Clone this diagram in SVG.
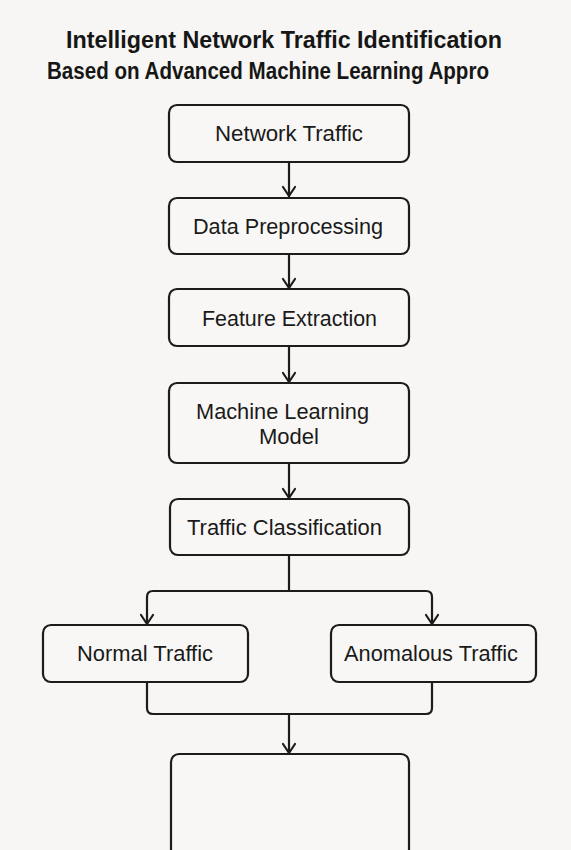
<svg xmlns="http://www.w3.org/2000/svg" width="571" height="850" viewBox="0 0 571 850">
  <style>
    .box { fill: #f8f7f5; stroke: #1c1c1c; stroke-width: 2.2; }
    .lbl { font-family: "Liberation Sans", Arial, sans-serif; font-size: 22px; fill: #1a1a1a; text-anchor: middle; }
    .title { font-family: "Liberation Sans", Arial, sans-serif; font-size: 23px; font-weight: bold; fill: #161616; text-anchor: middle; }
    .wire { fill: none; stroke: #1c1c1c; stroke-width: 2.2; stroke-linejoin: round; stroke-linecap: round; }
  </style>
  <rect width="571" height="850" fill="#f7f6f4"/>

  <g id="title">
    <text class="title" x="284" y="48" textLength="436" lengthAdjust="spacingAndGlyphs">Intelligent Network Traffic Identification</text>
    <text class="title" x="268" y="79" textLength="442" lengthAdjust="spacingAndGlyphs">Based on Advanced Machine Learning Appro</text>
  </g>

  <g id="connectors">
    <line class="wire" x1="289" y1="162" x2="289" y2="196"/>
    <line class="wire" x1="289" y1="254" x2="289" y2="288"/>
    <line class="wire" x1="289" y1="346" x2="289" y2="382"/>
    <line class="wire" x1="289" y1="463" x2="289" y2="498"/>
    <path class="wire" d="M289,555 V591"/>
    <path class="wire" d="M147,624 V597 Q147,591 153,591 H426 Q432,591 432,597 V624"/>
    <path class="wire" d="M147,682 V708 Q147,714 153,714 H426 Q432,714 432,708 V682"/>
    <line class="wire" x1="289" y1="714" x2="289" y2="753"/>
    <!-- open arrowheads -->
    <g class="wire">
      <path d="M283,187 L289,196 L295,187"/>
      <path d="M283,279 L289,288 L295,279"/>
      <path d="M283,373 L289,382 L295,373"/>
      <path d="M283,489 L289,498 L295,489"/>
      <path d="M141,615 L147,624 L153,615"/>
      <path d="M426,615 L432,624 L438,615"/>
      <path d="M283,744 L289,753 L295,744"/>
    </g>
  </g>

  <g id="network-traffic">
    <rect class="box" x="169" y="105" width="240" height="57" rx="8"/>
    <text class="lbl" x="289" y="141" textLength="148" lengthAdjust="spacingAndGlyphs">Network Traffic</text>
  </g>
  <g id="data-preprocessing">
    <rect class="box" x="169" y="198" width="240" height="56" rx="8"/>
    <text class="lbl" x="288" y="234" textLength="190" lengthAdjust="spacingAndGlyphs">Data Preprocessing</text>
  </g>
  <g id="feature-extraction">
    <rect class="box" x="169" y="289" width="240" height="57" rx="8"/>
    <text class="lbl" x="289.5" y="326" textLength="175" lengthAdjust="spacingAndGlyphs">Feature Extraction</text>
  </g>
  <g id="ml-model">
    <rect class="box" x="169" y="383" width="240" height="80" rx="8"/>
    <text class="lbl" x="282.5" y="419" textLength="173" lengthAdjust="spacingAndGlyphs">Machine Learning</text>
    <text class="lbl" x="289" y="444" textLength="60" lengthAdjust="spacingAndGlyphs">Model</text>
  </g>
  <g id="traffic-classification">
    <rect class="box" x="170" y="499" width="239" height="56" rx="8"/>
    <text class="lbl" x="284.5" y="535" textLength="195" lengthAdjust="spacingAndGlyphs">Traffic Classification</text>
  </g>
  <g id="normal-traffic">
    <rect class="box" x="43" y="625" width="205" height="57" rx="8"/>
    <text class="lbl" x="145" y="661" textLength="136" lengthAdjust="spacingAndGlyphs">Normal Traffic</text>
  </g>
  <g id="anomalous-traffic">
    <rect class="box" x="331" y="625" width="205" height="57" rx="8"/>
    <text class="lbl" x="431" y="661" textLength="174" lengthAdjust="spacingAndGlyphs">Anomalous Traffic</text>
  </g>
  <g id="output">
    <rect class="box" x="171" y="754" width="238" height="120" rx="8"/>
  </g>
</svg>
